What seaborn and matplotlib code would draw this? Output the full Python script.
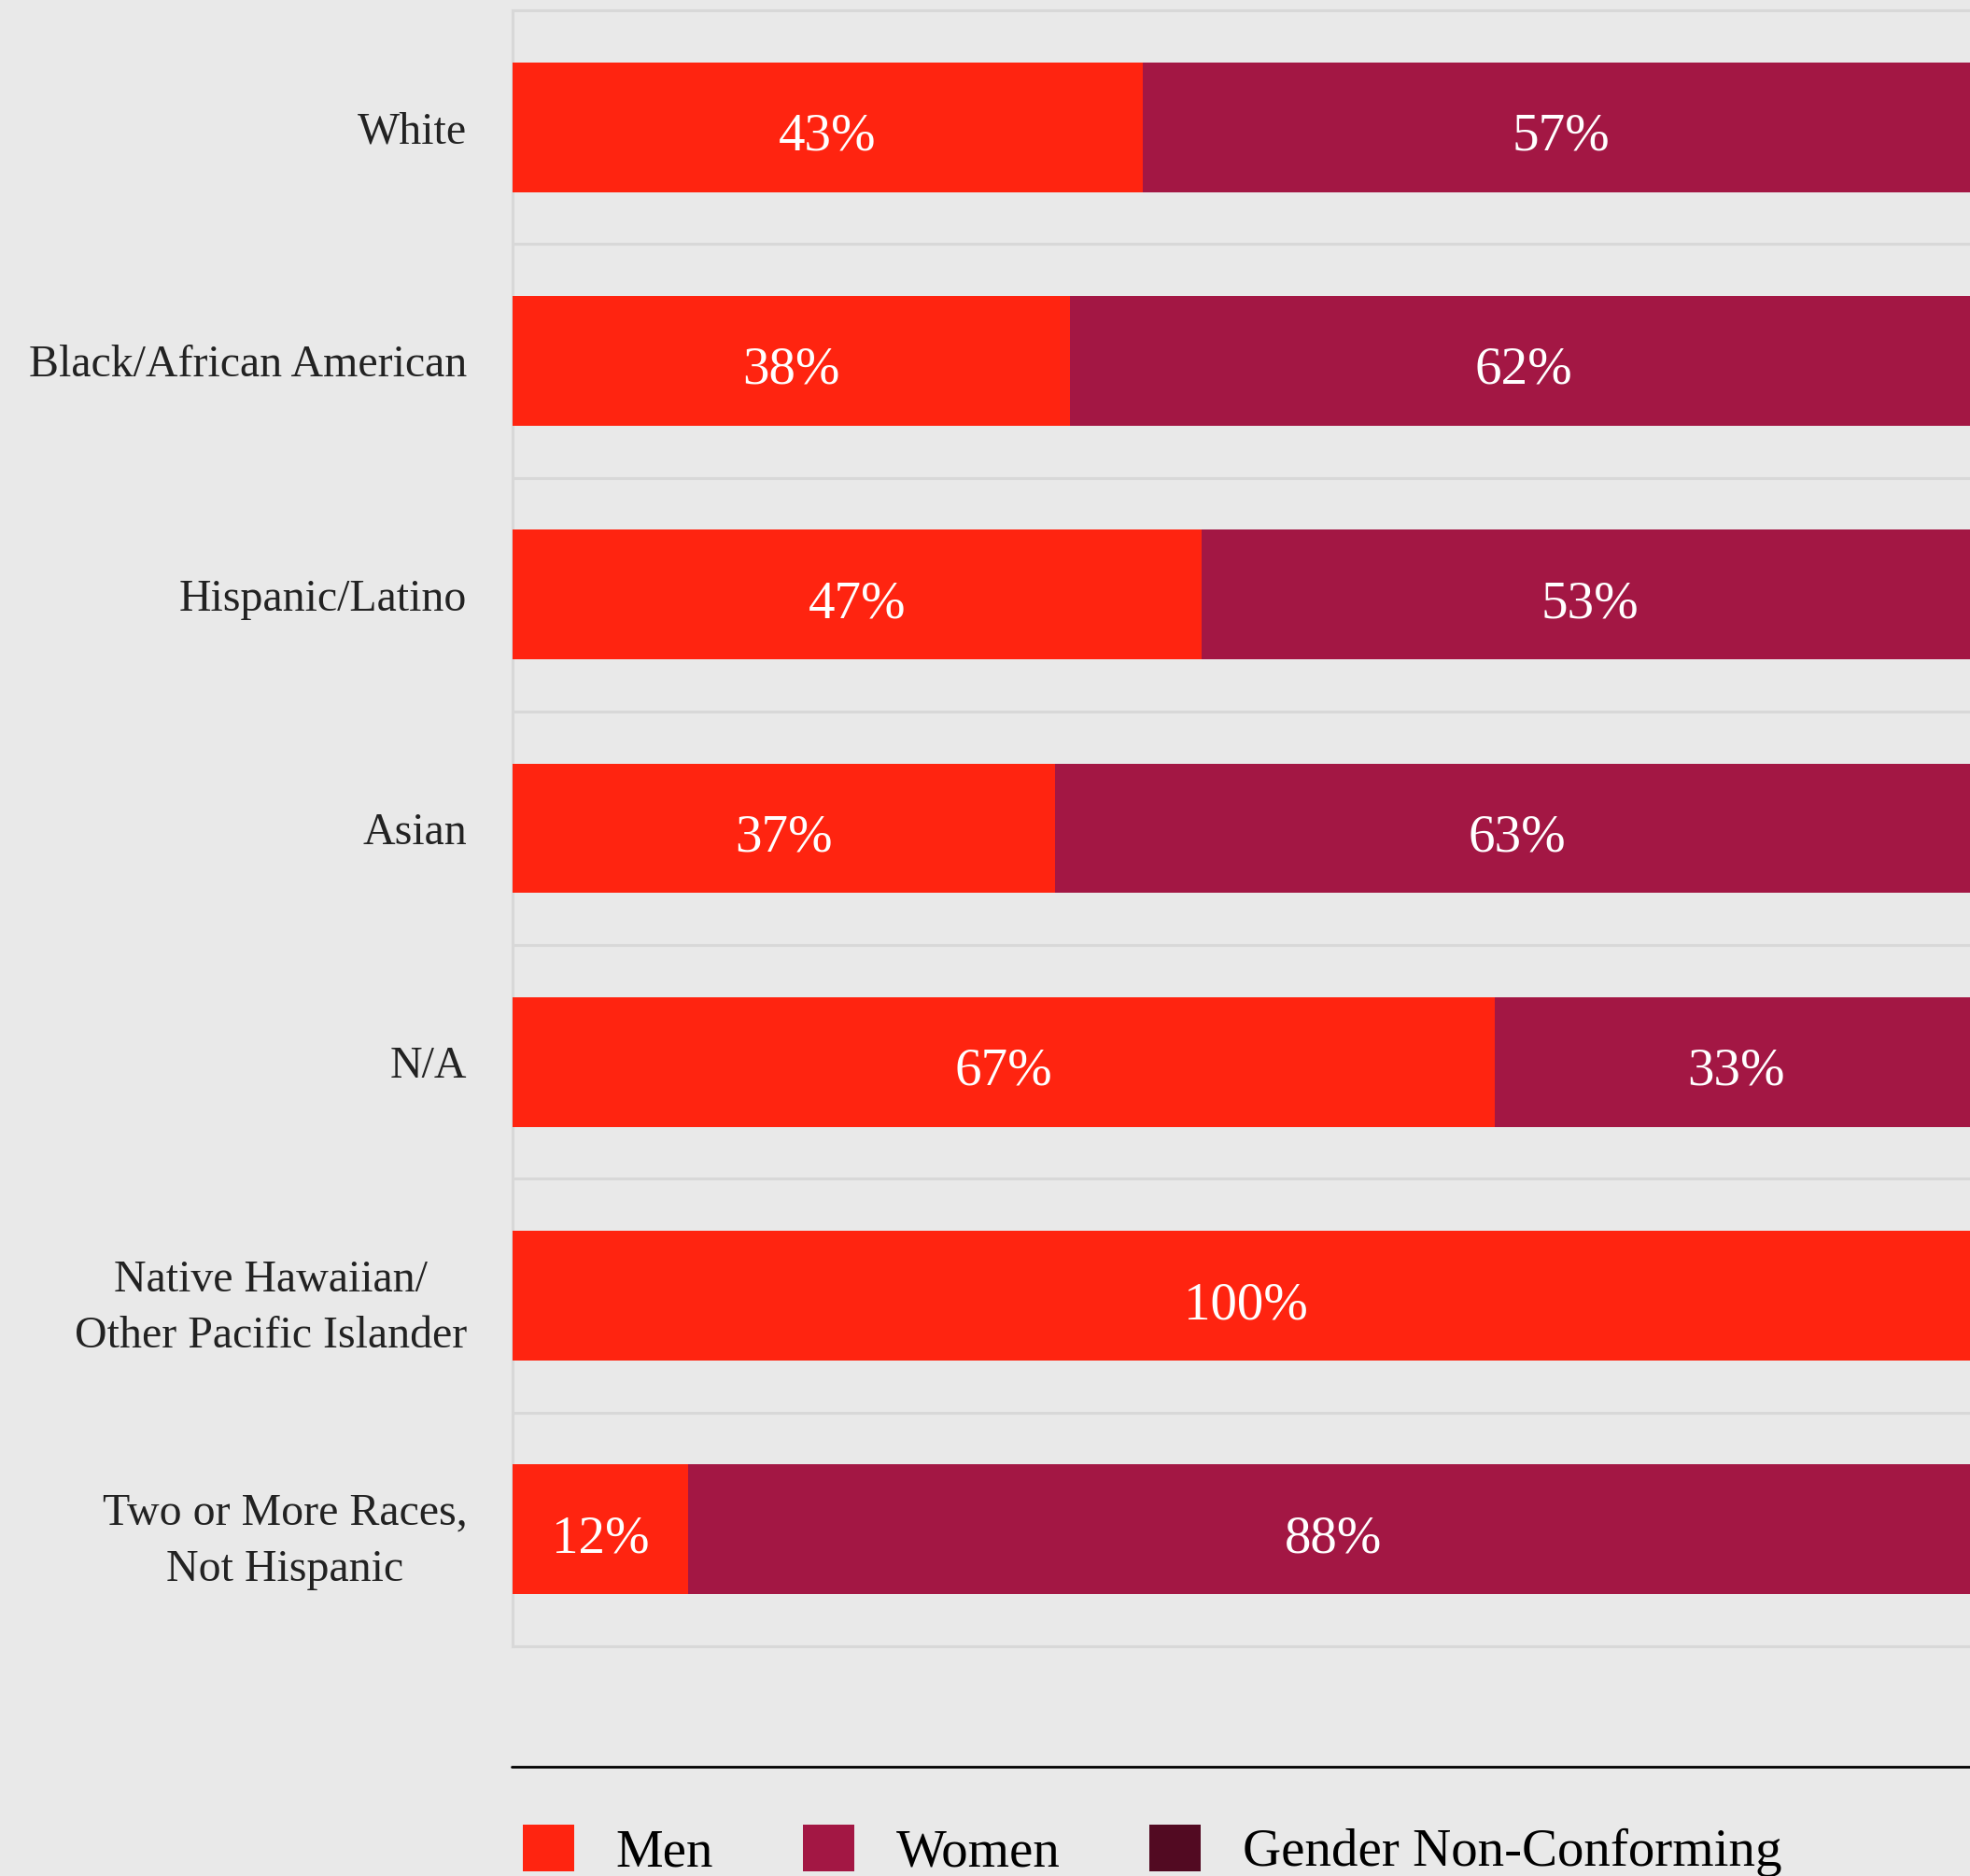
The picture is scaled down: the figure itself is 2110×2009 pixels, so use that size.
import matplotlib
matplotlib.use("Agg")
import matplotlib.pyplot as plt
import seaborn as sns
import pandas as pd
from matplotlib.patches import Patch
from matplotlib.lines import Line2D

categories = ["White", "Black/African American", "Hispanic/Latino", "Asian", "N/A",
              "Native Hawaiian/\nOther Pacific Islander", "Two or More Races,\nNot Hispanic"]
men = [43, 38, 47, 37, 67, 100, 12]
women = [57, 62, 53, 63, 33, 0, 88]
gnc = [0, 0, 0, 0, 0, 0, 0]
series_names = ["Men", "Women", "Gender Non-Conforming"]
colors = ["#FF2410", "#A31744", "#520A22"]

BG = "#E9E9E9"
GRID = "#D8D8D8"

sns.set_theme(style="white")
plt.rcParams["font.family"] = ["Liberation Serif", "DejaVu Serif"]

df = pd.DataFrame({"cat": categories, "men": men, "women": women, "gnc": gnc})
df["c_women"] = df["men"] + df["women"]
df["c_all"] = df["c_women"] + df["gnc"]

fig = plt.figure(figsize=(21.10, 20.09), dpi=100, facecolor=BG)
W, H = 2110, 2009
ax = fig.add_axes([549 / W, (H - 1763) / H, 1570 / W, 1752 / H])
ax.set_facecolor(BG)

bw = 0.555
for col, c in zip(["c_all", "c_women", "men"], [colors[2], colors[1], colors[0]]):
    sns.barplot(data=df, x=col, y="cat", orient="h", color=c, width=bw,
                saturation=1, ax=ax, zorder=3, linewidth=0, edgecolor=c)

for i, (m, w, g) in enumerate(zip(men, women, gnc)):
    left = 0
    for v in (m, w, g):
        if v > 0:
            ax.annotate(f"{v}%", xy=(left + v / 2, i), xytext=(0, -17.6),
                        textcoords="offset points", ha="center", va="baseline",
                        color="white", fontsize=41, zorder=5)
        left += v

ax.set_xlim(0, 100)
ax.set_ylim(len(categories) - 0.5, -0.5)
ax.set_xlabel("")
ax.set_ylabel("")
ax.set_xticks([])
ax.set_yticks(range(len(categories)))
ax.set_yticklabels(categories, fontsize=34.5, color="#222222")
for lab in ax.get_yticklabels():
    lab.set_multialignment("center")
    lab.set_linespacing(1.47)
ax.tick_params(axis="y", length=0, pad=35)
ax.set_yticks([i + 0.5 for i in range(len(categories) - 1)], minor=True)
ax.tick_params(axis="y", which="minor", length=0)
ax.grid(False)
ax.grid(True, which="minor", axis="y", color=GRID, linewidth=2.2, zorder=0)
for s in ["left", "top", "bottom"]:
    ax.spines[s].set_visible(True)
    ax.spines[s].set_color(GRID)
    ax.spines[s].set_linewidth(2.2)
ax.spines["right"].set_visible(False)

fig.add_artist(Line2D([548 / W, 1.0], [1 - 1892 / H, 1 - 1892 / H],
                      color="black", linewidth=2.0, transform=fig.transFigure))

handles = [Patch(facecolor=c, edgecolor="none") for c in colors]
fig.legend(handles, series_names, loc="upper left",
           bbox_to_anchor=(560 / W, 1 - 1954 / H), ncol=3, frameon=False,
           fontsize=41, handlelength=0.97, handleheight=0.97, handletextpad=0.78,
           columnspacing=1.68, borderpad=0, borderaxespad=0, labelcolor="black")

fig.savefig("out.png", dpi=100, facecolor=BG)
